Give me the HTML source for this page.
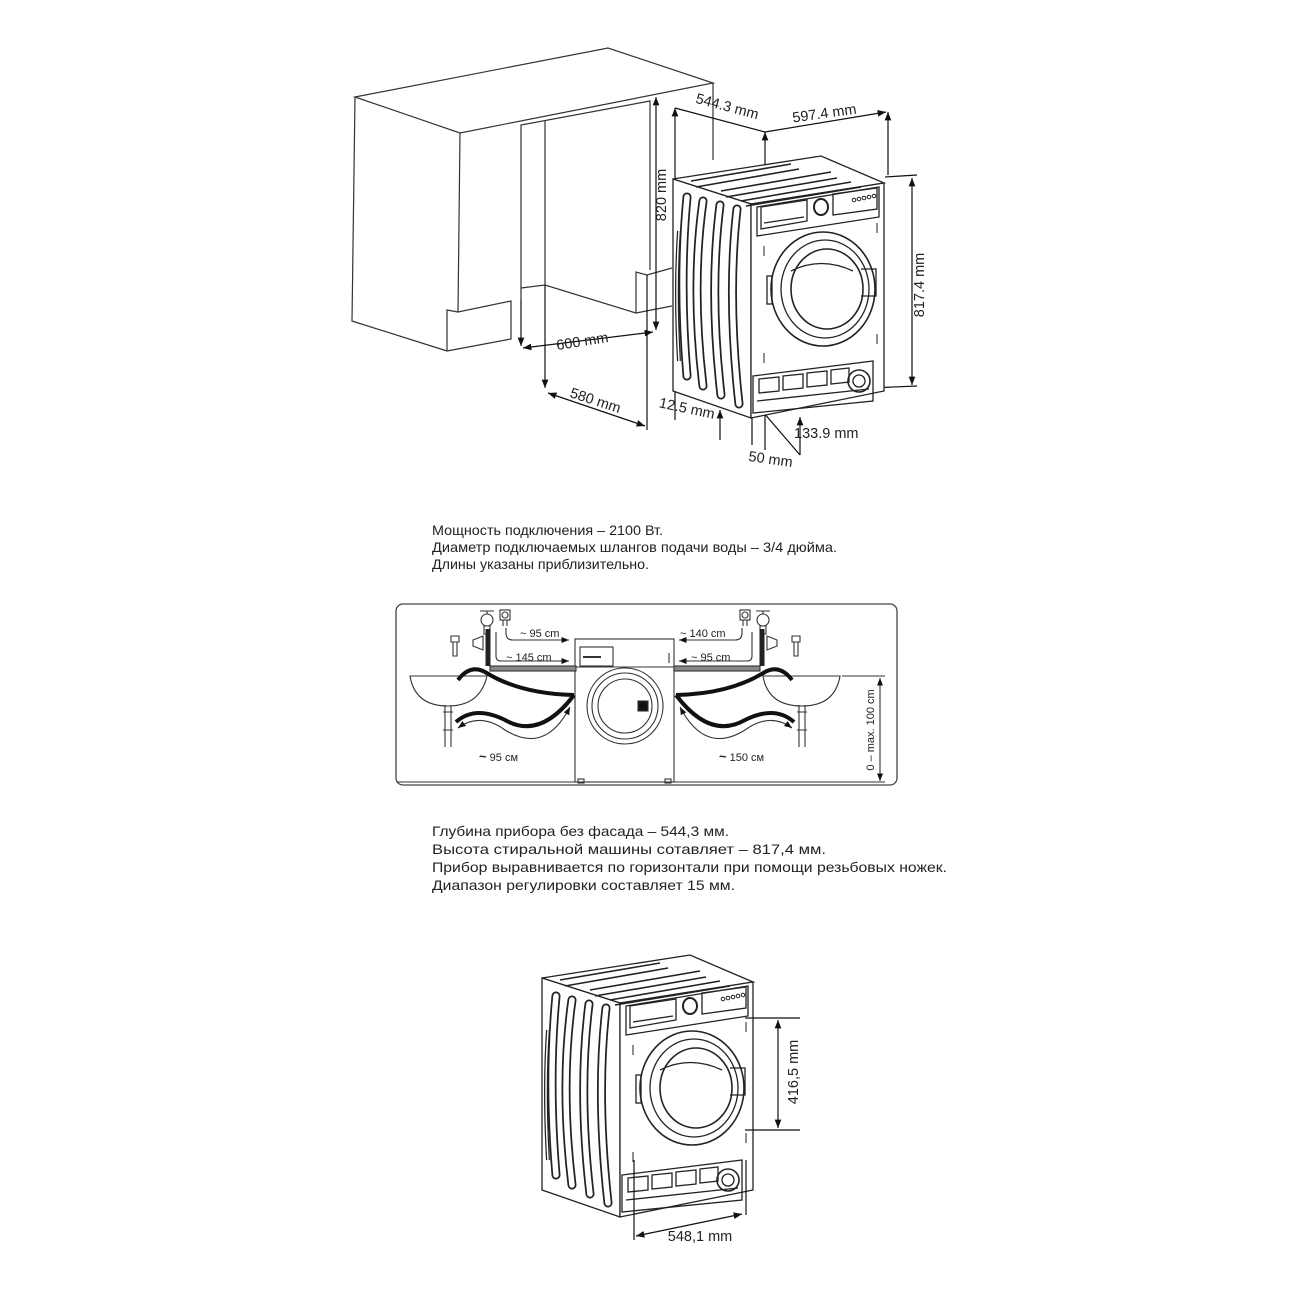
<!DOCTYPE html>
<html><head><meta charset="utf-8"><style>
html,body{margin:0;padding:0;background:#fff;}
svg{display:block;}
text{font-family:"Liberation Sans",Arial,sans-serif;fill:#222;}
</style></head><body>
<svg width="1300" height="1300" viewBox="0 0 1300 1300" xmlns="http://www.w3.org/2000/svg">
<defs>
<marker id="ar" viewBox="0 0 10 10" refX="10" refY="5" markerWidth="7" markerHeight="7" orient="auto-start-reverse"><path d="M0,1 L10,5 L0,9 z" fill="#111"/></marker>
<g id="wm" fill="none" stroke="#222" stroke-width="1.3">
  <polygon points="542,978 690,955 753,982 620,1003" fill="#fff"/>
  <polygon points="542,978 620,1003 620,1217 542,1190" fill="#fff"/>
  <polygon points="620,1003 753,982 753,1190 620,1217" fill="#fff"/>
  <path d="M560,980 L660,963 M565,986 L668,968 M590,990 L700,971 M595,996 L706,977 M610,1000 L720,981 M615,1005 L730,986" stroke-width="1.6"/>
  <path d="M626,1006 L748,986 L748,1016 L626,1035 Z"/>
  <path d="M630,1006 L676,999 L676,1020 L630,1028 Z"/>
  <path d="M633,1022 L673,1016" />
  <ellipse cx="690" cy="1006" rx="7" ry="8" stroke-width="2"/>
  <path d="M702,993 L746,987 L746,1008 L702,1014 Z"/>
  <g stroke-width="1"><circle cx="723" cy="999" r="1.8"/><circle cx="728" cy="998" r="1.8"/><circle cx="733" cy="997" r="1.8"/><circle cx="738" cy="996" r="1.8"/><circle cx="743" cy="995" r="1.8"/></g>
  <ellipse cx="692" cy="1088" rx="52" ry="57" stroke-width="1.6"/>
  <ellipse cx="694" cy="1088" rx="44" ry="49"/>
  <ellipse cx="696" cy="1088" rx="36" ry="40" stroke-width="1.6"/>
  <path d="M660,1070 Q690,1055 722,1070" />
  <path d="M730,1068 L745,1068 L745,1095 L730,1095" />
  <rect x="636" y="1075" width="5" height="28" />
  <path d="M633,1045 v10 M746,1022 v10 M746,1133 v10 M633,1152 v10" stroke-width="1"/>
  <path d="M622,1175 L742,1160 L742,1200 L622,1212 Z"/>
  <path d="M628,1178 l20,-2 v14 l-20,2 z M652,1175 l20,-2 v14 l-20,2 z M676,1172 l20,-2 v14 l-20,2 z M700,1169 l18,-2 v14 l-18,2 z"/>
  <circle cx="728" cy="1180" r="11" stroke-width="1.6"/>
  <circle cx="728" cy="1180" r="6"/>
  <path d="M626,1200 L738,1188"/>
  <g stroke="#222" stroke-width="9" stroke-linecap="round">
    <path d="M556,996 Q548,1080 556,1175"/>
    <path d="M572,1000 Q560,1085 572,1185"/>
    <path d="M589,1004 Q578,1090 590,1194"/>
    <path d="M606,1008 Q596,1095 608,1203"/>
  </g>
  <g stroke="#fff" stroke-width="5.5" stroke-linecap="round">
    <path d="M556,996 Q548,1080 556,1175"/>
    <path d="M572,1000 Q560,1085 572,1185"/>
    <path d="M589,1004 Q578,1090 590,1194"/>
    <path d="M606,1008 Q596,1095 608,1203"/>
  </g>
  <path d="M548,1030 Q544,1090 548,1160" stroke-width="4"/>
  <path d="M548,1030 Q544,1090 548,1160" stroke="#fff" stroke-width="1.5"/>
</g>
</defs>

<!-- ===== TOP CABINET ===== -->
<g fill="none" stroke="#333" stroke-width="1.2">
  <polygon points="355,97 608,48 713,83 460,133"/>
  <path d="M355,97 L352,321 L447,351"/>
  <path d="M447,351 L447,310 L458,312 M460,133 L458,312 L511,301 L511,339 L447,351"/>
  <path d="M713,83 L713,160"/>
  <path d="M521,300 L521,125 L650,101 L650,270"/>
  <path d="M521,288 L545,285 L636,313 M545,121 L545,285"/>
  <path d="M636,313 L636,272 L647,275 L672,268 M636,313 L672,306"/>
</g>
<!-- dimension lines top -->
<g fill="none" stroke="#111" stroke-width="1.2">
  <line x1="521" y1="300" x2="521" y2="346" marker-end="url(#ar)"/>
  <line x1="545" y1="285" x2="545" y2="388" marker-end="url(#ar)"/>
  <line x1="523" y1="348" x2="653" y2="332" marker-start="url(#ar)" marker-end="url(#ar)"/>
  <line x1="548" y1="393" x2="645" y2="426" marker-start="url(#ar)" marker-end="url(#ar)"/>
  <line x1="656" y1="330" x2="656" y2="97" marker-start="url(#ar)" marker-end="url(#ar)"/>
  <line x1="647" y1="275" x2="647" y2="430"/>
  <line x1="675" y1="420" x2="675" y2="108" marker-end="url(#ar)"/>
  <line x1="675" y1="108" x2="765" y2="132"/>
  <line x1="765" y1="132" x2="886" y2="112" marker-end="url(#ar)"/>
  <line x1="765" y1="450" x2="765" y2="132" marker-end="url(#ar)"/>
  <line x1="888" y1="175" x2="888" y2="112" marker-end="url(#ar)"/>
  <line x1="885" y1="177" x2="917" y2="175"/>
  <line x1="870" y1="388" x2="917" y2="386"/>
  <line x1="912" y1="178" x2="912" y2="385" marker-start="url(#ar)" marker-end="url(#ar)"/>
  <line x1="720" y1="380" x2="720" y2="395" marker-end="url(#ar)"/>
  <line x1="720" y1="440" x2="720" y2="410" marker-end="url(#ar)"/>
  <line x1="752" y1="410" x2="752" y2="445"/>
  <line x1="757" y1="405" x2="800" y2="455"/>
  <line x1="800" y1="455" x2="800" y2="417" marker-end="url(#ar)"/>
</g>
<use href="#wm" transform="translate(131,-799)"/>

<g font-size="14.5">
  <text transform="translate(583,346) rotate(-9)" text-anchor="middle">600 mm</text>
  <text transform="translate(594,405) rotate(18)" text-anchor="middle">580 mm</text>
  <text transform="translate(666,195) rotate(-90)" text-anchor="middle">820 mm</text>
  <text transform="translate(726,111) rotate(15)" text-anchor="middle">544.3 mm</text>
  <text transform="translate(825,118) rotate(-8)" text-anchor="middle">597.4 mm</text>
  <text transform="translate(924,285) rotate(-90)" text-anchor="middle">817.4 mm</text>
  <text transform="translate(686,413) rotate(12)" text-anchor="middle">12.5 mm</text>
  <text x="794" y="438">133.9 mm</text>
  <text transform="translate(770,464) rotate(8)" text-anchor="middle">50 mm</text>
</g>

<g font-size="14">
  <text x="432" y="535" textLength="231" lengthAdjust="spacingAndGlyphs">Мощность подключения – 2100 Вт.</text>
  <text x="432" y="552" textLength="405" lengthAdjust="spacingAndGlyphs">Диаметр подключаемых шлангов подачи воды – 3/4 дюйма.</text>
  <text x="432" y="569" textLength="217" lengthAdjust="spacingAndGlyphs">Длины указаны приблизительно.</text>
</g>

<rect x="396" y="604" width="501" height="181" rx="7" fill="none" stroke="#444" stroke-width="1.3"/>
<g fill="none" stroke="#333" stroke-width="1.1">
  <line x1="397" y1="782" x2="845" y2="782"/>
  <line x1="842" y1="676" x2="885" y2="676"/>
  <line x1="845" y1="782" x2="885" y2="782"/>
  <line x1="880" y1="678" x2="880" y2="781" marker-start="url(#ar)" marker-end="url(#ar)"/>
  <rect x="575" y="639" width="99" height="143" fill="#fff"/>
  <line x1="575" y1="667" x2="674" y2="667"/>
  <rect x="580" y="647" width="33" height="19"/>
  <line x1="583" y1="657" x2="601" y2="657" stroke-width="2"/>
  <line x1="669" y1="653" x2="669" y2="663"/>
  <circle cx="625" cy="706" r="38"/>
  <circle cx="625" cy="706" r="33"/>
  <circle cx="625" cy="706" r="27"/>
  <rect x="638" y="701" width="10" height="10" fill="#111"/>
  <rect x="578" y="779" width="6" height="4"/><rect x="665" y="779" width="6" height="4"/>
  <path d="M410,676 L487,676 Q480,706 448,706 Q415,706 410,676 Z" fill="#fff"/>
  <path d="M763,676 L840,676 Q835,706 802,706 Q768,706 763,676 Z" fill="#fff"/>
  <path d="M445,705 v42 M451,705 v42 M443,712 h10 M443,730 h10"/>
  <path d="M799,705 v42 M805,705 v42 M797,712 h10 M797,730 h10"/>
  <path d="M451,636 h8 v6 h-8z M453,642 v14 h4 v-14"/>
  <path d="M792,636 h8 v6 h-8z M794,642 v14 h4 v-14"/>
  <circle cx="487" cy="620" r="6"/><path d="M480,611 h14 M487,611 v3 M484,626 h6 v8 h-6z"/>
  <path d="M473,640 l10,-4 v14 l-10,-4z"/>
  <rect x="500" y="610" width="10" height="10"/><circle cx="505" cy="615" r="3"/><path d="M503,620 v6 M507,620 v6"/>
  <circle cx="763" cy="620" r="6"/><path d="M756,611 h14 M763,611 v3 M760,626 h6 v8 h-6z"/>
  <path d="M777,640 l-10,-4 v14 l10,-4z"/>
  <rect x="740" y="610" width="10" height="10"/><circle cx="745" cy="615" r="3"/><path d="M743,620 v6 M747,620 v6"/>
  <rect x="490" y="666" width="86" height="5" fill="#888"/>
  <rect x="674" y="666" width="86" height="5" fill="#888"/>
  <path d="M488,629 v37 M762,629 v37" stroke="#222" stroke-width="5"/>
  <path d="M496,632 v24 q0,5 5,5 h68" marker-end="url(#ar)"/>
  <path d="M506,628 v5 q0,7 7,7 h56" marker-end="url(#ar)"/>
  <path d="M742,628 v5 q0,7 -7,7 h-56" marker-end="url(#ar)"/>
  <path d="M752,632 v24 q0,5 -5,5 h-68" marker-end="url(#ar)"/>
  <path d="M458,680 Q470,664 485,672 Q520,694 574,695" stroke="#111" stroke-width="4"/>
  <path d="M574,695 Q540,740 505,720 Q475,705 456,722" stroke="#111" stroke-width="4"/>
  <path d="M792,680 Q780,664 765,672 Q730,694 676,695" stroke="#111" stroke-width="4"/>
  <path d="M676,695 Q710,740 745,720 Q775,705 794,722" stroke="#111" stroke-width="4"/>
  <path d="M458,728 Q480,712 505,730 Q545,755 570,707" marker-end="url(#ar)" marker-start="url(#ar)"/>
  <path d="M792,728 Q770,712 745,730 Q705,755 680,707" marker-end="url(#ar)" marker-start="url(#ar)"/>
</g>
<g font-size="11">
  <text x="520" y="637">~ 95 cm</text>
  <text x="506" y="661">~ 145 cm</text>
  <text x="680" y="637">~ 140 cm</text>
  <text x="691" y="661">~ 95 cm</text>
  <text x="479" y="761"><tspan font-weight="bold" font-size="13">~</tspan> 95 см</text>
  <text x="719" y="761"><tspan font-weight="bold" font-size="13">~</tspan> 150 см</text>
  <text transform="translate(874,730) rotate(-90)" text-anchor="middle">0 – max. 100 cm</text>
</g>

<g font-size="14">
  <text x="432" y="836" textLength="297" lengthAdjust="spacingAndGlyphs">Глубина прибора без фасада – 544,3 мм.</text>
  <text x="432" y="854" textLength="394" lengthAdjust="spacingAndGlyphs">Высота стиральной машины сотавляет – 817,4 мм.</text>
  <text x="432" y="872" textLength="515" lengthAdjust="spacingAndGlyphs">Прибор выравнивается по горизонтали при помощи резьбовых ножек.</text>
  <text x="432" y="890" textLength="303" lengthAdjust="spacingAndGlyphs">Диапазон регулировки составляет 15 мм.</text>
</g>

<use href="#wm"/>
<g fill="none" stroke="#111" stroke-width="1.2">
  <line x1="745" y1="1018" x2="800" y2="1018"/>
  <line x1="745" y1="1130" x2="800" y2="1130"/>
  <line x1="778" y1="1020" x2="778" y2="1128" marker-start="url(#ar)" marker-end="url(#ar)"/>
  <line x1="634" y1="1160" x2="634" y2="1240"/>
  <line x1="746" y1="1160" x2="746" y2="1215"/>
  <line x1="636" y1="1236" x2="742" y2="1214" marker-start="url(#ar)" marker-end="url(#ar)"/>
</g>
<text transform="translate(798,1072) rotate(-90)" text-anchor="middle" font-size="14.5">416,5 mm</text>
<text x="700" y="1241" text-anchor="middle" font-size="14.5">548,1 mm</text>
</svg>
</body></html>
